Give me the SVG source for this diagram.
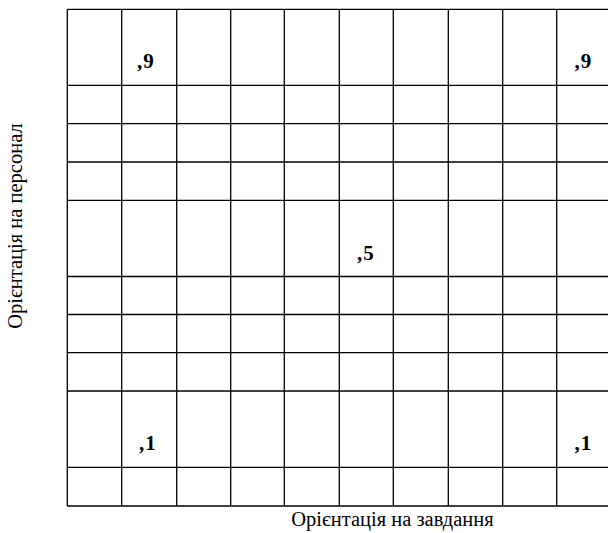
<svg xmlns="http://www.w3.org/2000/svg" width="608" height="533" viewBox="0 0 608 533">
<style>
.g{stroke:#000;stroke-width:1.3;fill:none}
.v{font-family:"Liberation Serif","Times New Roman",serif;font-weight:bold;font-size:21px;letter-spacing:1px;fill:#000}
.a{font-family:"Liberation Serif","Times New Roman",serif;font-size:20.5px;fill:#000}
</style>
<rect width="608" height="533" fill="#fff"/>
<g id="grid" class="g">
<path d="M67.3 9.3H620M67.3 85.3H620M67.3 123.7H620M67.3 162H620M67.3 200.3H620M67.3 276.5H620M67.3 314.5H620M67.3 352.7H620M67.3 391H620M67.3 467.3H620M67.3 506H620"/>
<path d="M67.3 9.3V506M121.7 9.3V506M176.7 9.3V506M230.7 9.3V506M284.3 9.3V506M339.3 9.3V506M393.3 9.3V506M448.3 9.3V506M502.7 9.3V506M556.7 9.3V506"/>
</g>
<g id="values">
<text class="v" x="137" y="67.5">,9</text>
<text class="v" x="574.5" y="67.5">,9</text>
<text class="v" x="357" y="259.5">,5</text>
<text class="v" x="139" y="450">,1</text>
<text class="v" x="574.5" y="450">,1</text>
</g>
<g id="axes">
<text class="a" x="392.5" y="526" text-anchor="middle">Орієнтація на завдання</text>
<text class="a" transform="translate(22 226) rotate(-90)" text-anchor="middle">Орієнтація на персонал</text>
</g>
</svg>
